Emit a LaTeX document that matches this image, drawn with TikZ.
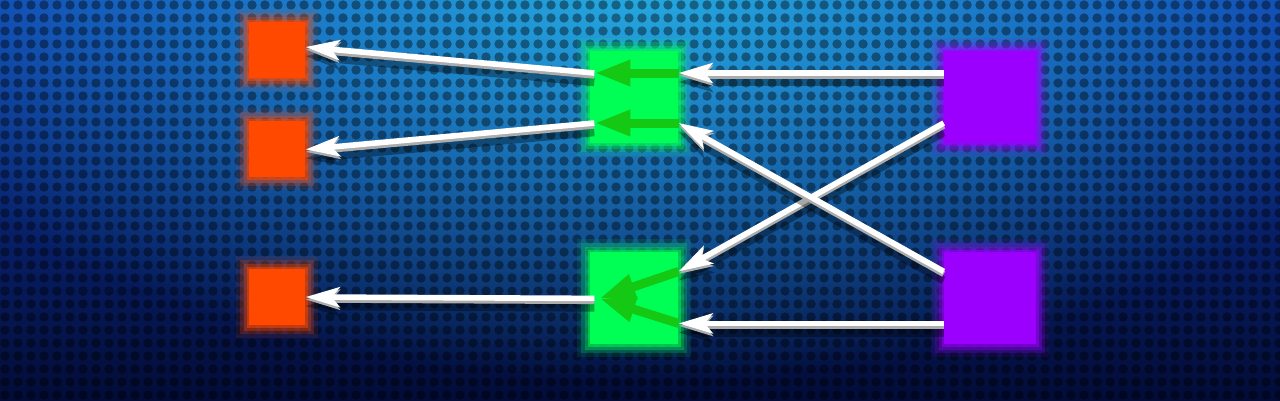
\documentclass[tikz,border=0pt]{standalone}
\usepackage{tikz}
\usetikzlibrary{arrows.meta,positioning,fadings}
\definecolor{outred}{RGB}{255,72,0}
\definecolor{midgreen}{RGB}{0,255,85}
\definecolor{inpurple}{RGB}{155,0,255}
\definecolor{flowgreen}{RGB}{20,200,20}
\definecolor{bgtop}{RGB}{14,58,172}
\definecolor{bgbot}{RGB}{3,12,55}
\definecolor{bgglow}{RGB}{38,172,225}
\tikzfading[name=glowfade,inner color=transparent!0,outer color=transparent!100]

\begin{document}
\begin{tikzpicture}[
  glow/.style={preaction={draw=#1,line width=2.6mm,opacity=.1,rounded corners=3pt},
               preaction={draw=#1,line width=1.8mm,opacity=.2,rounded corners=3pt},
               preaction={draw=#1,line width=1.1mm,opacity=.3,rounded corners=2pt},
               preaction={draw=#1,line width=.5mm,opacity=.5,rounded corners=2pt}},
  outbox/.style={fill=outred,minimum size=5.6mm,inner sep=0pt,glow=outred},
  midbox/.style={fill=midgreen,minimum width=8.8mm,minimum height=9.2mm,inner sep=0pt,glow=midgreen},
  inbox/.style={fill=inpurple,minimum size=9.2mm,inner sep=0pt,glow=inpurple},
  wire/.style={-{Stealth[length=3.4mm,width=2mm,inset=.8mm]},white,line width=1.6pt,
               preaction={draw=black,opacity=.35,line width=2.4pt,transform canvas={yshift=-.9mm}},
               preaction={draw=gray!65,line width=1.8pt,transform canvas={yshift=-.25mm}}},
  flow/.style={-{Triangle[length=3.6mm,width=2.4mm]},flowgreen,line width=.9mm}]
\useasboundingbox (0,0) rectangle (12.8,4);
% background
\begin{scope}
\clip (0,0) rectangle (12.8,4);
\shade[top color=bgtop,bottom color=bgbot] (0,0) rectangle (12.8,4);
\fill[bgglow,path fading=glowfade] (6.4,4.2) ellipse (8 and 4);
\fill[black,opacity=.4] \foreach \i in {0,...,98} {\foreach \j in {0,...,30} {(\i*0.13+0.05,\j*0.13+0.05) circle (0.047)}};
\end{scope}
% boxes
\node[outbox] (o1) at (2.77,3.50) {};
\node[outbox,below=4.2mm of o1] (o2) {};
\node[outbox] (o3) at (2.77,1.03) {};
\node[midbox] (g1) at (6.34,3.03) {};
\node[midbox,below=1.08 of g1] (g2) {};
\node[inbox,right=2.65 of g1] (p1) {};
\node[inbox,right=2.65 of g2] (p2) {};
% inner flow
\draw[flow] ([yshift=2.4mm]g1.east) -- ([yshift=2.4mm,xshift=.5mm]g1.west);
\draw[flow] ([yshift=-2.6mm]g1.east) -- ([yshift=-2.6mm,xshift=.5mm]g1.west);
\draw[flow] ([yshift=2.7mm]g2.east) -- ([xshift=1mm]g2.west);
\draw[flow] ([yshift=-2.5mm]g2.east) -- ([xshift=1mm]g2.west);
% wires
\draw[wire] ([yshift=2.4mm]p1.west) -- ([yshift=2.4mm]g1.east);
\draw[wire] ([yshift=-2.6mm]p1.west) -- ([yshift=2.7mm]g2.east);
\draw[wire] ([yshift=2.7mm]p2.west) -- ([yshift=-2.6mm]g1.east);
\draw[wire] ([yshift=-2.5mm]p2.west) -- ([yshift=-2.5mm]g2.east);
\draw[wire] ([yshift=2.4mm,xshift=.5mm]g1.west) -- ([yshift=.3mm]o1.east);
\draw[wire] ([yshift=-2.6mm,xshift=.5mm]g1.west) -- (o2.east);
\draw[wire] ([xshift=.5mm]g2.west) -- (o3.east);
\end{tikzpicture}
\end{document}
